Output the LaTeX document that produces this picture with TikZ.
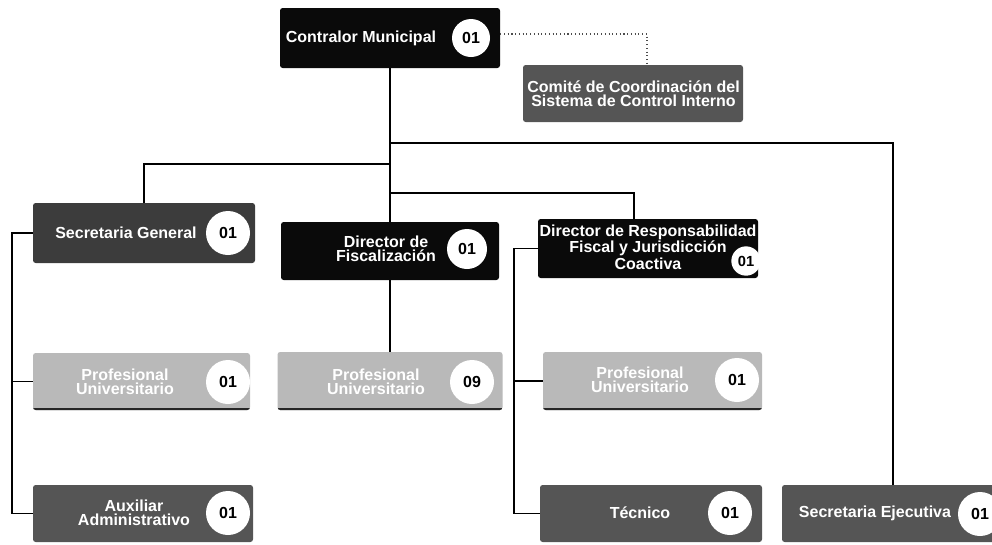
\documentclass[tikz,border=0pt]{standalone}
\usepackage{fontspec}
\setmainfont{Liberation Sans}
\definecolor{boxdark}{HTML}{0A0A0A}
\definecolor{boxsg}{HTML}{3C3C3C}
\definecolor{boxmid}{HTML}{555555}
\definecolor{boxlight}{HTML}{B9B9B9}
\tikzset{
  box/.style={rectangle, rounded corners=2pt, inner sep=0pt, minimum width=165pt, minimum height=44pt},
  darkbox/.style={box, fill=boxdark},
  sgbox/.style={box, fill=boxsg},
  midbox/.style={box, fill=boxmid},
  lightbox/.style={box, fill=boxlight,
    path picture={\draw[line width=3pt, black!85] (path picture bounding box.south west) -- (path picture bounding box.south east);}},
  num/.style={circle, fill=white, inner sep=0pt, minimum size=33pt, font=\bfseries\fontsize{12}{12}\selectfont},
  lbl/.style={text=white, font=\bfseries\fontsize{12}{10.5}\selectfont, align=center, inner sep=0pt},
  wire/.style={line width=1.3pt, black},
  dotwire/.style={line width=0.8pt, black!70, dotted},
}
\begin{document}
\begin{tikzpicture}[x=0.75pt,y=-0.75pt]
\useasboundingbox (0,0) rectangle (992,544);

% boxes
\node[darkbox, minimum height=45pt] (contralor) at (390,38) {};
\node[midbox, minimum height=42.75pt] (comite) at (633,93.5) {};
\node[sgbox, minimum width=166.5pt, minimum height=45pt] (secgen) at (144,233) {};
\node[darkbox, minimum width=163.5pt, minimum height=43.5pt] (dirfisc) at (390,251) {};
\node[darkbox, minimum height=44.25pt] (dirresp) at (648,248.5) {};
\node[lightbox, minimum width=162.75pt, minimum height=42.75pt] (prof1) at (141.5,381.5) {};
\node[lightbox, minimum width=168.75pt, minimum height=43.5pt] (prof2) at (390,381) {};
\node[lightbox, minimum width=164.25pt, minimum height=43.5pt] (prof3) at (652.5,381) {};
\node[midbox, minimum height=42.75pt] (aux) at (143,513.5) {};
\node[midbox, minimum width=166.5pt, minimum height=42.75pt] (tecnico) at (651,513.5) {};
\node[midbox, minimum width=166.5pt, minimum height=42.75pt] (secejec) at (893,513.5) {};

% labels
\node[lbl] (tcontralor) at (361,38) {Contralor Municipal};
\node[lbl, anchor=west] (tcomite) at (527,93.5) {Comité de Coordinación del\\Sistema de Control Interno};
\node[lbl] (tsecgen) at (126,233) {Secretaria General};
\node[lbl] (tdirfisc) at (386,249) {Director de\\Fiscalización};
\node[lbl] (tdirresp) at (648,247) {Director de Responsabilidad\\Fiscal y Jurisdicción\\Coactiva};
\node[lbl] (tprof1) at (125,382) {Profesional\\Universitario};
\node[lbl] (tprof2) at (376,382) {Profesional\\Universitario};
\node[lbl] (tprof3) at (640,380) {Profesional\\Universitario};
\node[lbl] (taux) at (134,513) {Auxiliar\\Administrativo};
\node[lbl] (ttecnico) at (640,513) {Técnico};
\node[lbl] (tsecejec) at (875,513) {Secretaria Ejecutiva};

% number circles
\node[num, minimum size=28.5pt] (ncontralor) at (471,38) {01};
\node[num] (nsecgen) at (228,233) {01};
\node[num, minimum size=30pt] (ndirfisc) at (467,249) {01};
\node[num, minimum size=22pt, font=\bfseries\fontsize{11}{11}\selectfont] (ndirresp) at (746,261) {01};
\node[num] (nprof1) at (228,382) {01};
\node[num] (nprof2) at (472,382) {09};
\node[num] (nprof3) at (737,380) {01};
\node[num] (naux) at (228,513) {01};
\node[num] (ntecnico) at (730,513) {01};
\node[num] (nsecejec) at (980,514) {01};

% junctions
\coordinate (jA) at (390,143);
\coordinate (jB) at (390,164);
\coordinate (jC) at (390,193);
\coordinate (drin) at ([xshift=-10.5pt]dirresp.north);
\coordinate (busL) at (12,0);
\coordinate (busR) at (514,0);
\coordinate (dotx) at (647,0);
\coordinate (dotstart) at ([yshift=3pt]contralor.east);

% connectors
\draw[wire] (contralor.south) -- (dirfisc.north);
\draw[wire] (dirfisc.south) -- (prof2.north);
\draw[wire] (jA) -| (secejec.north);
\draw[wire] (jB) -| (secgen.north);
\draw[wire] (jC) -| (drin);
\draw[wire] (secgen.west) -- (secgen.west -| busL) |- (aux.west);
\draw[wire] (prof1.west) -- (prof1.west -| busL);
\draw[wire] (dirresp.west) -- (dirresp.west -| busR) |- (tecnico.west);
\draw[wire] (prof3.west) -- (prof3.west -| busR);
\draw[dotwire] (dotstart) -| (comite.north -| dotx);
\end{tikzpicture}
\end{document}
